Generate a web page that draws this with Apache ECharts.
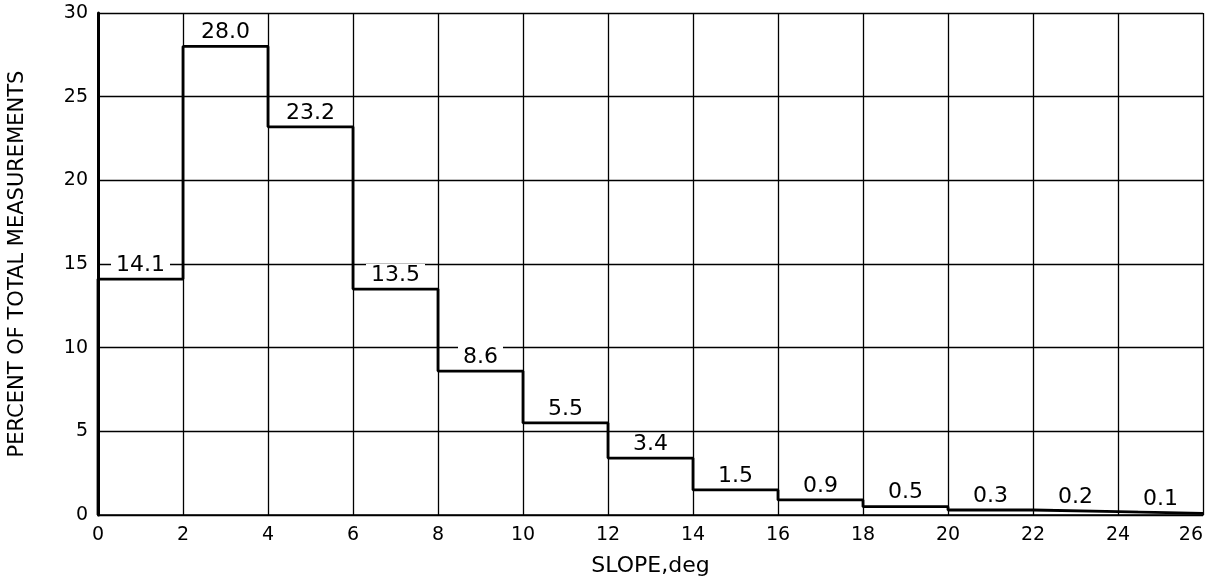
<!DOCTYPE html>
<html>
<head>
<meta charset="utf-8">
<script src="https://cdn.jsdelivr.net/npm/echarts@6/dist/echarts.min.js"></script>
<style>
html,body{margin:0;padding:0;background:#fff;}
#chart{width:1210px;height:581px;}
</style>
</head>
<body>
<div id="chart"></div>
<script>
// Bin edges (slope, deg) and percent of total measurements per 2-degree bin
const binStarts = [0, 2, 4, 6, 8, 10, 12, 14, 16, 18, 20, 22, 24];
const binWidth = 2;
const percents = [14.1, 28.0, 23.2, 13.5, 8.6, 5.5, 3.4, 1.5, 0.9, 0.5, 0.3, 0.2, 0.1];
const xTicks = [0, 2, 4, 6, 8, 10, 12, 14, 16, 18, 20, 22, 24, 26];
const yTicks = [0, 5, 10, 15, 20, 25, 30];
const xTitle = 'SLOPE,deg';
const yTitle = 'PERCENT OF TOTAL MEASUREMENTS';

const FONT = 'DejaVu Sans';

// Step outline built from bins
const stepData = [[binStarts[0], 0]];
binStarts.forEach((s, i) => stepData.push([s, percents[i]]));
stepData.push([binStarts[binStarts.length - 1] + binWidth, percents[percents.length - 1]]);

const labelData = binStarts.map((s, i) => [s + binWidth / 2, percents[i]]);

const chart = echarts.init(document.getElementById('chart'), null, {renderer: 'canvas'});
chart.setOption({
  backgroundColor: '#fff',
  animation: false,
  grid: {left: 98, right: 7, top: 13, bottom: 66, outerBoundsMode: 'none', containLabel: false},
  xAxis: {
    type: 'value',
    min: xTicks[0], max: xTicks[xTicks.length - 1], interval: 2,
    name: xTitle, nameLocation: 'middle', nameGap: 40,
    nameTextStyle: {fontFamily: FONT, fontSize: 22, color: '#000'},
    axisLine: {show: true, onZero: false, lineStyle: {color: '#000', width: 1.6}},
    axisTick: {show: false},
    axisLabel: {fontFamily: FONT, fontSize: 19, color: '#000', margin: 11, alignMaxLabel: 'right'},
    splitLine: {show: true, lineStyle: {color: '#000', width: 1.3}}
  },
  yAxis: {
    type: 'value',
    min: yTicks[0], max: yTicks[yTicks.length - 1], interval: 5,
    name: yTitle, nameLocation: 'middle', nameGap: 70,
    nameTextStyle: {fontFamily: FONT, fontSize: 21, color: '#000'},
    axisLine: {show: true, lineStyle: {color: '#000', width: 3}},
    axisTick: {show: false},
    axisLabel: {fontFamily: FONT, fontSize: 19, color: '#000', margin: 10},
    splitLine: {show: true, lineStyle: {color: '#000', width: 1.3}}
  },
  series: [
    {
      type: 'line',
      step: 'end',
      data: stepData,
      symbol: 'none',
      lineStyle: {color: '#000', width: 2.8},
      z: 3
    },
    {
      type: 'scatter',
      data: labelData,
      symbolSize: 0,
      silent: true,
      itemStyle: {opacity: 1},
      z: 4,
      label: {
        show: true,
        position: 'top',
        distance: 3,
        formatter: p => p.value[1].toFixed(1),
        fontFamily: FONT,
        fontSize: 22,
        color: '#000',
        opacity: 1,
        backgroundColor: '#fff',
        padding: [0, 5, 0, 5]
      }
    }
  ]
});
</script>
</body>
</html>
